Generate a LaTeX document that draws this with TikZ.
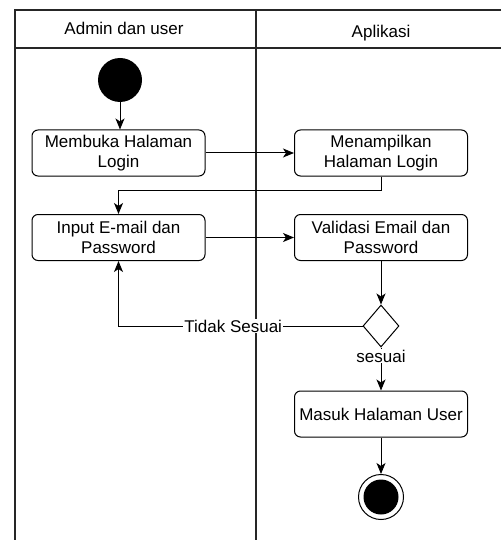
\documentclass[tikz,border=0pt]{standalone}
\usepackage{fontspec}
\setmainfont{Liberation Sans}
\usetikzlibrary{arrows.meta,shapes.geometric}
\begin{document}
\begin{tikzpicture}[x=1pt,y=-1pt,
  font=\fontsize{17}{20.4}\selectfont,
  lane/.style={line width=1.3pt, draw=black!85},
  act/.style={draw, line width=1pt, rounded corners=6pt, minimum width=173pt,
    minimum height=46pt, align=center, inner sep=2pt},
  flow/.style={line width=1pt, -{Stealth[length=11pt,width=9pt,inset=3pt]}},
  lbl/.style={fill=white, inner sep=1pt},
  decide/.style={draw, line width=1pt, diamond, minimum width=36pt,
    minimum height=42pt, inner sep=0pt, shape aspect=0.857},
  startdot/.style={circle, fill=black, minimum size=44pt, inner sep=0pt},
  enddot/.style={circle, draw, line width=1pt, minimum size=45pt, inner sep=0pt,
    path picture={\fill (path picture bounding box.center) circle (17.5pt);}}]
\useasboundingbox (0,0) rectangle (501,540);
\fill[white] (0,0) rectangle (501,540);

% swimlanes
\draw[lane] (501,10) -- (15,10) -- (15,540);
\draw[lane] (15,48) -- (501,48);
\draw[lane] (256,10) -- (256,540);
\node (h1) at (124,28) {Admin dan user};
\node (h2) at (381,33) {Aplikasi};

% activities
\node[startdot] (start) at (120,80) {};
\node[act] (buka) at (118.5,153) {Membuka Halaman\\Login};
\node[act] (tampil) at (381,153) {Menampilkan\\Halaman Login};
\node[act] (input) at (118.5,237.5) {Input E-mail dan\\Password};
\node[act] (valid) at (381,237.5) {Validasi Email dan\\Password};
\node[decide] (cek) at (381,326) {};
\node[act] (masuk) at (381,414) {Masuk Halaman User};
\node[enddot] (end) at (381,497) {};

% flows
\draw[flow] (start) -- (start |- buka.north);
\draw[flow] (buka) -- (tampil);
\coordinate (turn) at (381,190);
\draw[flow] (tampil.south) -- (turn) -| (input.north);
\draw[flow] (input) -- (valid);
\draw[flow] (valid) -- (cek);
\draw[flow] (cek.west) -| (input.south)
  node[lbl, pos=0.265] {Tidak Sesuai};
\draw[flow] (cek) -- (masuk) node[lbl, pos=0.2] {sesuai};
\draw[flow] (masuk) -- (end);
\end{tikzpicture}
\end{document}
